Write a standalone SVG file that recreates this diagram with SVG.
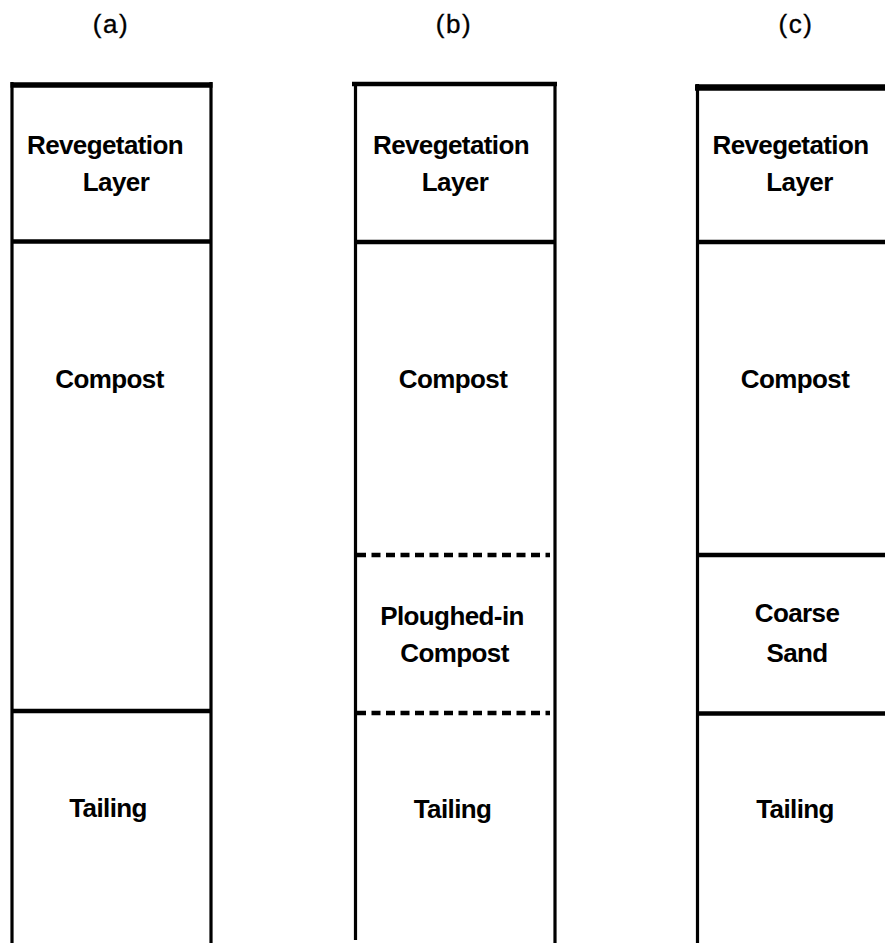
<svg xmlns="http://www.w3.org/2000/svg" width="885" height="943" viewBox="0 0 885 943">
<style>
.t{font-family:"Liberation Sans",Arial,sans-serif;font-weight:bold;font-size:26px;letter-spacing:-0.6px;fill:#000;text-anchor:middle}
.h{font-family:"Liberation Sans",Arial,sans-serif;font-size:26px;fill:#000;stroke:#000;stroke-width:0.35;text-anchor:middle;letter-spacing:1.5px}
.v{stroke:#000;stroke-width:3.2;fill:none}
.s{stroke:#000;stroke-width:4.5;fill:none}
.d{stroke:#000;stroke-width:4.5;fill:none;stroke-dasharray:9 5.5}
</style>
<rect width="885" height="943" fill="#fff"/>
<g id="titles">
<text class="h" x="111" y="33">(a)</text>
<text class="h" x="454" y="33">(b)</text>
<text class="h" x="796" y="33">(c)</text>
</g>
<g id="connectors">
<line class="v" x1="12" y1="82" x2="12" y2="943"/>
<line class="v" x1="211" y1="82" x2="211" y2="943"/>
<line class="s" x1="10.5" y1="85" x2="212.5" y2="85" style="stroke-width:5.5"/>
<line class="s" x1="12" y1="241.5" x2="211" y2="241.5"/>
<line class="s" x1="12" y1="711" x2="211" y2="711"/>
<line class="v" x1="355.5" y1="82" x2="355.5" y2="940"/>
<line class="v" x1="555" y1="82" x2="555" y2="943"/>
<line class="s" x1="352" y1="84" x2="557" y2="84"/>
<line class="s" x1="355" y1="242" x2="555" y2="242"/>
<line class="d" x1="357" y1="555" x2="550" y2="555"/>
<line class="d" x1="357" y1="713" x2="550" y2="713"/>
<line class="v" x1="697.5" y1="84" x2="697.5" y2="943"/>
<line class="s" x1="695" y1="87.5" x2="885" y2="87.5" style="stroke-width:6.5"/>
<line class="s" x1="697" y1="242" x2="885" y2="242"/>
<line class="s" x1="697" y1="555" x2="885" y2="555"/>
<line class="s" x1="697" y1="713.5" x2="885" y2="713.5"/>
</g>
<g id="a-reveg"><text class="t" x="105" y="154">Revegetation</text><text class="t" x="116" y="191">Layer</text></g>
<g id="a-compost"><text class="t" x="109.5" y="388">Compost</text></g>
<g id="a-tailing"><text class="t" x="108" y="817">Tailing</text></g>
<g id="b-reveg"><text class="t" x="451" y="154">Revegetation</text><text class="t" x="455" y="191">Layer</text></g>
<g id="b-compost"><text class="t" x="453" y="388">Compost</text></g>
<g id="b-plough"><text class="t" x="452" y="625">Ploughed-in</text><text class="t" x="454.5" y="662">Compost</text></g>
<g id="b-tailing"><text class="t" x="452.5" y="818">Tailing</text></g>
<g id="c-reveg"><text class="t" x="790.5" y="154">Revegetation</text><text class="t" x="799.5" y="191">Layer</text></g>
<g id="c-compost"><text class="t" x="795" y="388">Compost</text></g>
<g id="c-sand"><text class="t" x="797" y="622">Coarse</text><text class="t" x="797" y="662">Sand</text></g>
<g id="c-tailing"><text class="t" x="795" y="818">Tailing</text></g>
</svg>
